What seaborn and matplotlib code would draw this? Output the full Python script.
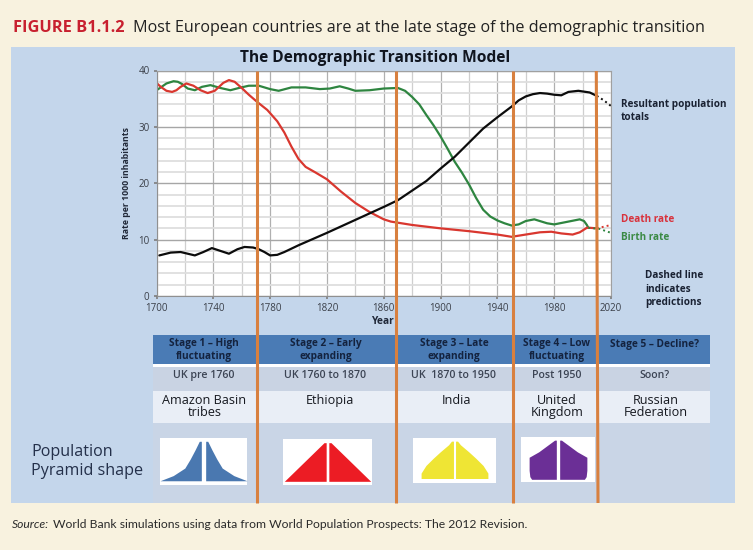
import matplotlib
matplotlib.use("Agg")
import matplotlib.pyplot as plt
from matplotlib.patches import Rectangle
from matplotlib.ticker import MultipleLocator
import seaborn as sns

sns.set_theme(style="white")
plt.rcParams['font.family'] = ['Open Sans', 'DejaVu Sans']

# ---------- data ----------
birth_years = [1700,1703,1707,1712,1715,1718,1722,1727,1732,1738,1745,1752,1758,1765,1772,1780,1786,1795,1805,1815,1822,1829,1835,1840,1850,1860,1870,1875,1880,1885,1890,1895,1900,1905,1910,1915,1920,1925,1930,1935,1940,1945,1950,1955,1960,1966,1975,1980,1990,1998,2001,2003,2004]
birth_vals = [36.5,37.0,37.7,38.1,38.0,37.6,36.8,36.5,37.1,37.4,36.9,36.5,36.9,37.3,37.3,36.7,36.4,37.0,37.0,36.7,36.8,37.2,36.8,36.4,36.5,36.8,36.9,36.4,35.3,34.0,32.1,30.3,28.3,26.1,23.8,21.9,19.8,17.4,15.3,14.1,13.4,12.9,12.5,12.7,13.3,13.6,12.9,12.7,13.2,13.6,13.3,12.6,12.1]
birth_pred_years = [2004,2012,2020]
birth_pred_vals = [12.1,11.9,11.2]

death_years = [1700,1703,1707,1711,1714,1717,1721,1726,1731,1736,1741,1744,1747,1751,1755,1760,1765,1771,1778,1785,1790,1795,1800,1805,1812,1820,1830,1840,1850,1860,1865,1870,1880,1890,1900,1920,1940,1950,1960,1970,1978,1985,1993,1998,2003,2005,2010]
death_vals = [37.8,37.1,36.4,36.2,36.5,37.1,37.7,37.3,36.5,36.0,36.4,37.1,37.8,38.3,38.0,36.9,35.7,34.4,33.0,31.0,29.0,26.5,24.3,22.9,21.9,20.7,18.5,16.5,14.9,13.6,13.2,13.0,12.6,12.3,12.0,11.5,10.9,10.5,10.9,11.3,11.4,11.1,10.9,11.3,12.1,12.1,12.0]
death_pred_years = [2010,2015,2020]
death_pred_vals = [12.0,12.3,12.6]

pop_years = [1702,1710,1717,1722,1727,1733,1739,1745,1751,1757,1762,1768,1772,1776,1780,1785,1790,1800,1820,1840,1860,1870,1880,1890,1900,1910,1920,1930,1940,1950,1955,1960,1965,1970,1975,1980,1985,1990,1997,2005,2010]
pop_vals = [7.2,7.7,7.8,7.5,7.2,7.8,8.5,8.0,7.5,8.3,8.7,8.6,8.3,7.8,7.2,7.3,7.8,9.0,11.2,13.5,15.8,17.0,18.7,20.4,22.6,24.7,27.2,29.7,31.7,33.6,34.7,35.4,35.8,36.0,35.9,35.7,35.6,36.2,36.4,36.1,35.5]
pop_pred_years = [2010,2015,2020]
pop_pred_vals = [35.5,34.7,33.7]

x_tick_labels = [1700,1740,1780,1820,1860,1900,1940,1980,2020]
y_tick_labels = [0,10,20,30,40]

stage_names = ["Stage 1 – High\nfluctuating","Stage 2 – Early\nexpanding","Stage 3 – Late\nexpanding","Stage 4 – Low\nfluctuating","Stage 5 – Decline?"]
stage_periods = ["UK pre 1760","UK 1760 to 1870","UK  1870 to 1950","Post 1950","Soon?"]
stage_countries = ["Amazon Basin\ntribes","Ethiopia","India","United\nKingdom","Russian\nFederation"]

pyr_ages = {
    "amazon": [0.09,0.20,0.36,0.55,0.75,0.93],
    "ethiopia": [0.08,0.92],
    "india": [0.10,0.22,0.39,0.55,0.69,0.85,0.93],
    "uk": [0.06,0.12,0.26,0.55,0.67,0.93],
}
pyr_widths = {
    "amazon": [1.0,0.68,0.40,0.27,0.15,0.05],
    "ethiopia": [0.97,0.05],
    "india": [0.80,0.80,0.68,0.50,0.33,0.12,0.05],
    "uk": [0.70,0.75,0.77,0.77,0.50,0.05],
}
pyr_colors = {"amazon":"#4A78B0","ethiopia":"#EC1C24","india":"#EFE534","uk":"#6B2F96"}
pyr_gaps = {"amazon":0.05,"ethiopia":0.03,"india":0.025,"uk":0.045}

# ---------- layout helpers ----------
W, H = 753, 550
fig = plt.figure(figsize=(W/100, H/100), dpi=100, facecolor="#F8F2DF")

def px_axes(x0, y0, x1, y1, **kw):
    return fig.add_axes([x0/W, 1-y1/H, (x1-x0)/W, (y1-y0)/H], **kw)

bg = fig.add_axes([0,0,1,1], zorder=0)
bg.set_xlim(0,W); bg.set_ylim(H,0); bg.axis("off")

def rect(x0,y0,x1,y1,c,ax=bg):
    ax.add_patch(Rectangle((x0,y0),x1-x0,y1-y0,fc=c,ec="none"))

rect(11,47,735,503,"#C4D6EB")

# table
rect(153,335,710,364,"#4A7BB5")
rect(153,364,710,367,"#FFFFFF")
rect(153,367,710,391,"#C9D3E3")
rect(153,391,710,423,"#E9EEF6")
rect(153,423,710,503,"#C9D5E6")
centers = [204,325.5,454,557,655]
country_centers = [204.5,330,457,557,656]
for c,cc,s,p,n in zip(centers,country_centers,stage_names,stage_periods,stage_countries):
    bg.text(c,(350 if "\n" in s else 344),s,ha="center",va="center",fontsize=7.3,fontweight="bold",color="#14233F",linespacing=1.15)
    bg.text(c,375.5,p,ha="center",va="center",fontsize=7.7,color="#3C4454",fontweight="semibold")
    bg.text(cc,(406.5 if "\n" in n else 400.5),n,ha="center",va="center",fontsize=9.1,color="#15181F",linespacing=0.95,fontweight="medium")

bg.text(31,452,"Population",fontsize=11.6,color="#24304A",va="center")
bg.text(31,471,"Pyramid shape",fontsize=11.6,color="#24304A",va="center")

# heading + source
t = bg.text(13,27.5,"FIGURE B1.1.2",fontsize=11.8,fontweight="bold",color="#C8202F",va="center")
bg.annotate("Most European countries are at the late stage of the demographic transition",
            xy=(1,0.5),xycoords=t,xytext=(6,0),textcoords="offset points",fontsize=11.6,color="#222222",va="center")
s = bg.text(12,524,"Source:",fontsize=8.75,style="italic",color="#2A2A2A",va="center",family=["Lato","DejaVu Sans"])
bg.annotate("World Bank simulations using data from World Population Prospects: The 2012 Revision.",
            xy=(1,0.5),xycoords=s,xytext=(3,0),textcoords="offset points",fontsize=8.75,color="#2A2A2A",va="center",family=["Lato","DejaVu Sans"])
bg.text(375,58,"The Demographic Transition Model",ha="center",va="center",fontsize=11.2,fontweight="bold",color="#10151F")

# right side labels
side = dict(fontsize=7.2,fontweight="bold",va="center")
bg.text(621,105,"Resultant population",color="#1A2233",**side)
bg.text(621,118,"totals",color="#1A2233",**side)
bg.text(621,220,"Death rate",color="#D8323C",**side)
bg.text(621,237,"Birth rate",color="#3B8A45",**side)
for y,l in zip([276,289,302],["Dashed line","indicates","predictions"]):
    bg.text(645.5,y,l,color="#1A2233",**side)

# ---------- main chart ----------
ax = px_axes(156.5,70.5,611,296,zorder=1,facecolor="white")
ax.set_axisbelow(True)
ax.xaxis.set_minor_locator(MultipleLocator(20))
ax.yaxis.set_minor_locator(MultipleLocator(2))
ax.grid(which="major",axis="y",color="#A6A6A6",lw=1.0)
ax.grid(which="minor",axis="y",color="#DEDEDE",lw=1.3)
ax.grid(which="minor",axis="x",color="#CFCFCF",lw=0.9)
ax.grid(which="major",axis="x",color="#B0B0B0",lw=0.9)

line_kw = dict(lw=1.6,sort=False,estimator=None,solid_joinstyle="round")
sns.lineplot(x=birth_years,y=birth_vals,ax=ax,color="#2E8540",**line_kw)
sns.lineplot(x=death_years,y=death_vals,ax=ax,color="#D9372F",**line_kw)
sns.lineplot(x=pop_years,y=pop_vals,ax=ax,color="#0C0C0C",**line_kw)
for xs,ys,c in [(birth_pred_years,birth_pred_vals,"#2E8540"),(death_pred_years,death_pred_vals,"#D9372F"),(pop_pred_years,pop_pred_vals,"#0C0C0C")]:
    sns.lineplot(x=xs,y=ys,ax=ax,color=c,lw=1.4,linestyle=(0,(1,1.6)),sort=False,estimator=None,clip_on=False)

ax.set_xlim(1700,2020); ax.set_ylim(0,40)
ax.set_xticks(x_tick_labels); ax.set_yticks(y_tick_labels)
ax.tick_params(axis="both",which="major",labelsize=7,labelcolor="#3A3F48",length=2,color="#808080",pad=3,left=True,bottom=True)
ax.tick_params(axis="both",which="minor",length=0)
for sp in ["top","right"]:
    ax.spines[sp].set_color("#A0A0A0"); ax.spines[sp].set_linewidth(0.8)
for sp in ["left","bottom"]:
    ax.spines[sp].set_color("#909090"); ax.spines[sp].set_linewidth(0.8)
ax.set_xlabel(""); ax.set_ylabel("")
bg.text(127,183,"Rate per 1000 inhabitants",rotation=90,ha="center",va="center",fontsize=6.3,fontweight="bold",color="#202838")
bg.text(382,321.5,"Year",ha="center",va="center",fontsize=7.4,fontweight="bold",color="#202838")

# ---------- pyramids ----------
boxes = {"amazon":(160,438,247,485),"ethiopia":(283,439,372,485),"india":(413,438,496,483),"uk":(521,437,595,482)}
for k,(x0,y0,x1,y1) in boxes.items():
    pa = px_axes(x0,y0,x1,y1,zorder=2,facecolor="white")
    gap = pyr_gaps[k]
    pa.fill_betweenx(pyr_ages[k],gap,[gap+w*(1-gap) for w in pyr_widths[k]],color=pyr_colors[k],lw=0)
    pa.fill_betweenx(pyr_ages[k],-gap,[-gap-w*(1-gap) for w in pyr_widths[k]],color=pyr_colors[k],lw=0)
    pa.set_xlim(-1,1); pa.set_ylim(0,1)
    pa.set_xticks([]); pa.set_yticks([])
    for sp in pa.spines.values():
        sp.set_visible(False)

# ---------- orange stage dividers ----------
ov = fig.add_axes([0,0,1,1],zorder=3,facecolor="none")
ov.set_xlim(0,W); ov.set_ylim(H,0); ov.axis("off")
for xt,xb in [(256.7,256.7),(396,396),(513.3,513.3),(596.3,598)]:
    ov.plot([xt,xb],[71,503],color="#D8803F",lw=2.2,solid_capstyle="butt")

fig.savefig("out.png",dpi=100,facecolor=fig.get_facecolor())
